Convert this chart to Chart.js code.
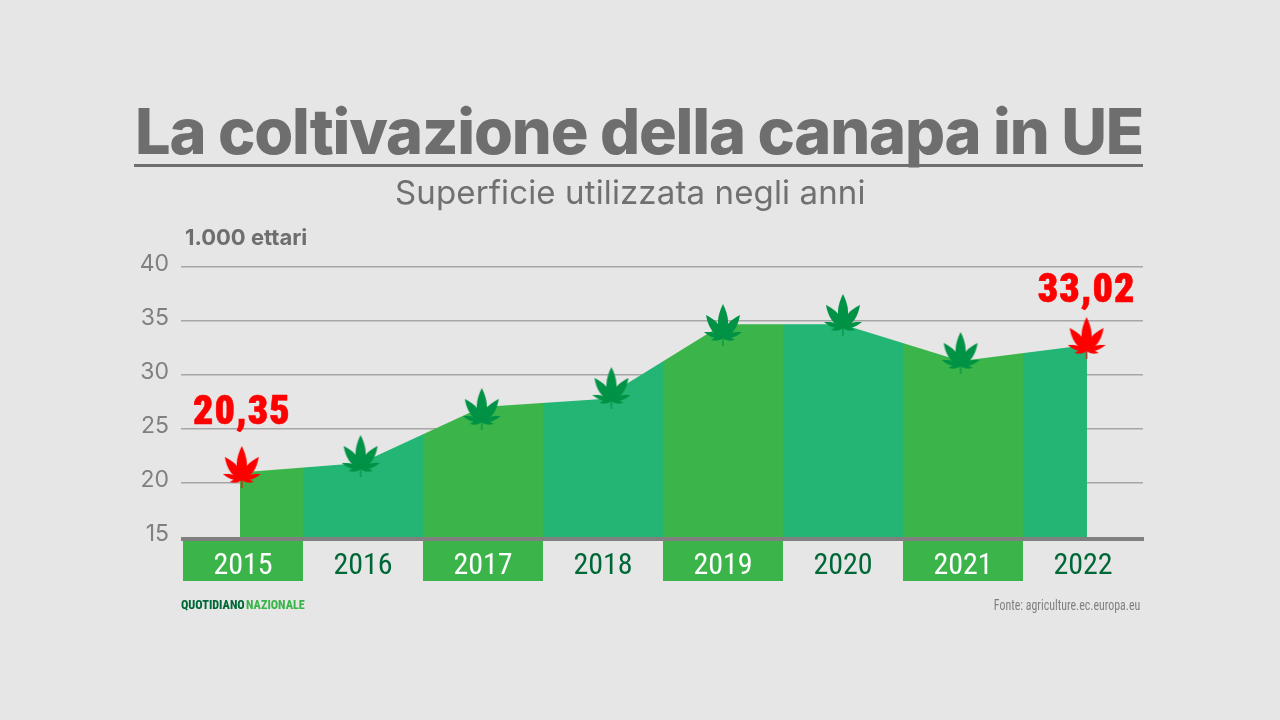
<!DOCTYPE html>
<html lang="it">
<head>
<meta charset="utf-8">
<title>La coltivazione della canapa in UE</title>
<script src="https://cdn.jsdelivr.net/npm/chart.js@4/dist/chart.umd.min.js"></script>
<style>
    html, body { margin: 0; background: #e6e6e6; overflow: hidden; }
    #wrap { position: relative; width: 1280px; height: 720px; }
    #wrap canvas { position: absolute; left: 0; top: 0; }
    .txt { position: absolute; white-space: nowrap; line-height: 1; color: #6e6e6e; }
    #title { left: 135px; top: 93px; font: 800 63px "Inter", sans-serif; letter-spacing: -1.18px; }
    #rule { position: absolute; left: 134px; top: 164px; width: 1009px; height: 3px; background: #6e6e6e; }
    #subtitle { left: 395px; top: 172px; font: 400 33px "Inter", sans-serif; letter-spacing: 0.13px; color: #707070; }
    #unit { left: 185px; top: 224px; font: 700 22px "Inter", sans-serif; }
    #brand { left: 181px; top: 598px; font: 800 12.2px "Roboto Condensed", sans-serif; word-spacing: -1.5px; color: #006837; }
    #brand span { color: #39b54a; }
    #source { right: 140px; top: 597px; font: 400 14px "Roboto Condensed", sans-serif; color: #808080; transform: scaleX(0.85); transform-origin: right center; }
</style>
</head>
<body>
<div id="wrap">
    <canvas id="chart" width="1280" height="720"></canvas>
    <div class="txt" id="title">La coltivazione della canapa in UE</div>
    <div id="rule"></div>
    <div class="txt" id="subtitle">Superficie utilizzata negli anni</div>
    <div class="txt" id="unit">1.000 ettari</div>
    <div class="txt" id="brand">QUOTIDIANO <span>NAZIONALE</span></div>
    <div class="txt" id="source">Fonte: agriculture.ec.europa.eu</div>
</div>
<script>
const years = [2015, 2016, 2017, 2018, 2019, 2020, 2021, 2022];
const yTicks = [15, 20, 25, 30, 35, 40];

// the area as drawn
const areaX = [2014.975, 2015.983, 2016.992, 2017.992, 2019, 2019.992, 2020.983, 2022.033];
const areaY = [20.97, 21.85, 27.04, 27.78, 34.69, 34.69, 31.30, 32.78];

// leaf icons sit a bit off the area
const leafX = [2014.99, 2015.98, 2016.99, 2018.07, 2019, 2020, 2020.98, 2022.03];
const leafY = [21.48, 22.5, 26.85, 28.8, 34.63, 35.56, 32.04, 33.43];

const peakLabels = ["20,35", "33,02"];
const peakLabelX = [2014.99, 2022.03];
const peakLabelY = [25.46, 36.79];

const GREEN = "#3bb54a";
const TEAL = "#22b573";
const DARK = "#006837";
const GREY = "#808080";

function makeLeaf(color) {
    const c = document.createElement("canvas");
    c.width = 38;
    c.height = 42;
    const g = c.getContext("2d");
    g.fillStyle = color;
    g.strokeStyle = color;

    // narrow at the stem, widest around the middle, pointed tip
    function blade(tipX, tipY, width) {
        const baseX = 19, baseY = 34;
        const dx = tipX - baseX, dy = tipY - baseY;
        const nx = -dy / Math.hypot(dx, dy), ny = dx / Math.hypot(dx, dy);
        const ax = baseX + dx * 0.3, ay = baseY + dy * 0.3;
        const bx = baseX + dx * 0.65, by = baseY + dy * 0.65;
        g.beginPath();
        g.moveTo(baseX, baseY);
        g.bezierCurveTo(ax + nx * width, ay + ny * width, bx + nx * width * 0.8, by + ny * width * 0.8, tipX, tipY);
        g.bezierCurveTo(bx - nx * width * 0.8, by - ny * width * 0.8, ax - nx * width, ay - ny * width, baseX, baseY);
        g.fill();
    }

    blade(19, 0, 7.5);
    blade(2, 11, 6.5);
    blade(36, 11, 6.5);
    blade(0, 28, 3.5);
    blade(38, 28, 3.5);
    blade(7, 36, 2.5);
    blade(31, 36, 2.5);
    g.lineWidth = 1.2;
    g.beginPath();
    g.moveTo(19, 32);
    g.lineTo(19, 42);
    g.stroke();
    return c;
}

const leafGreen = makeLeaf("#009245");
const leafRed = makeLeaf("#ff0000");

// green / teal bands, one per year, hard edges halfway between years
function bandFill(context) {
    const chart = context.chart;
    if (!chart.chartArea) return GREEN;
    const x = chart.scales.x;
    const grad = chart.ctx.createLinearGradient(x.left, 0, x.right, 0);
    const span = x.max - x.min;
    years.forEach((year, i) => {
        const color = i % 2 === 0 ? GREEN : TEAL;
        grad.addColorStop((year - 0.5 - x.min) / span, color);
        grad.addColorStop((year + 0.5 - x.min) / span, color);
    });
    return grad;
}

const yearBoxes = {
    id: "yearBoxes",
    beforeDraw(chart) {
        const x = chart.scales.x;
        const ctx = chart.ctx;
        ctx.save();
        ctx.fillStyle = GREEN;
        years.forEach((year, i) => {
            if (i % 2 !== 0) return;
            const left = x.getPixelForValue(year - 0.5);
            const right = x.getPixelForValue(year + 0.5);
            ctx.fillRect(left, 541, right - left, 40);
        });
        ctx.restore();
    }
};

const peakText = {
    id: "peakText",
    afterDatasetsDraw(chart) {
        const ctx = chart.ctx;
        ctx.save();
        ctx.font = "900 40px 'Roboto Condensed', sans-serif";
        ctx.letterSpacing = "1px";
        ctx.fillStyle = "#ff0000";
        ctx.strokeStyle = "#ff0000";
        ctx.lineWidth = 0.6;
        ctx.textAlign = "center";
        ctx.textBaseline = "alphabetic";
        peakLabels.forEach((label, i) => {
            const px = chart.scales.x.getPixelForValue(peakLabelX[i]);
            const py = chart.scales.y.getPixelForValue(peakLabelY[i]);
            ctx.fillText(label, px, py);
            ctx.strokeText(label, px, py);
        });
        ctx.restore();
    }
};

new Chart(document.getElementById("chart"), {
    type: "line",
    data: {
        datasets: [
            {
                data: leafX.map((x, i) => ({ x: x, y: leafY[i] })),
                showLine: false,
                pointRadius: 10,
                pointStyle: leafX.map((x, i) => (i === 0 || i === leafX.length - 1) ? leafRed : leafGreen),
                clip: false,
                order: 1
            },
            {
                data: areaX.map((x, i) => ({ x: x, y: areaY[i] })),
                fill: "start",
                backgroundColor: bandFill,
                borderWidth: 0,
                pointRadius: 0,
                tension: 0,
                order: 2
            }
        ]
    },
    options: {
        responsive: false,
        animation: false,
        layout: { padding: { top: 267, right: 137, left: 0, bottom: 0 } },
        plugins: { legend: { display: false }, tooltip: { enabled: false } },
        scales: {
            x: {
                type: "linear",
                min: 2014.5,
                max: 2022.5,
                afterFit: scale => { scale.height = 181; },
                afterBuildTicks: scale => { scale.ticks = years.map(y => ({ value: y })); },
                grid: { display: false },
                border: { color: GREY, width: 4, z: 1 },
                ticks: {
                    autoSkip: false,
                    maxRotation: 0,
                    padding: 1,
                    font: { family: "'Roboto Condensed', sans-serif", size: 30 },
                    color: ctx => ctx.index % 2 === 0 ? "#ffffff" : DARK,
                    callback: value => String(value)
                }
            },
            y: {
                min: 14.8,
                max: 40,
                afterFit: scale => { scale.width = 183; },
                afterBuildTicks: scale => { scale.ticks = yTicks.map(v => ({ value: v })); },
                border: { display: false },
                grid: {
                    color: ctx => ctx.tick && ctx.tick.value === 15 ? "transparent" : "#a6a6a6",
                    lineWidth: 1.5,
                    tickLength: 2
                },
                ticks: {
                    padding: 12,
                    labelOffset: -3,
                    font: { family: "Inter, sans-serif", size: 23 },
                    color: GREY
                }
            }
        }
    },
    plugins: [yearBoxes, peakText]
});
</script>
</body>
</html>
